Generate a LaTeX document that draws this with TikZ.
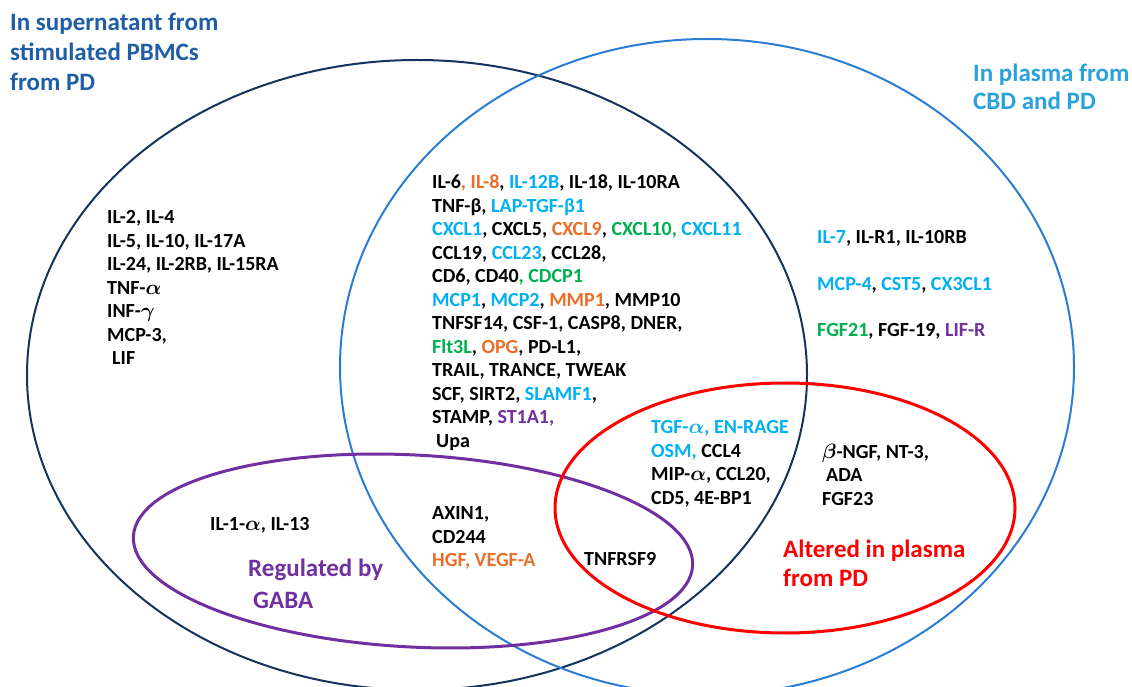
\documentclass[tikz,border=0pt]{standalone}
\usepackage{fontspec}
\setmainfont{Carlito}
\usepackage{amsmath}
\usepackage{tikz}
\usetikzlibrary{positioning}
\definecolor{navyring}{RGB}{20,52,94}
\definecolor{bluering}{RGB}{43,125,212}
\definecolor{navytext}{RGB}{31,93,165}
\definecolor{bluetext}{RGB}{41,161,221}
\definecolor{cyantext}{RGB}{0,176,240}
\definecolor{orangetext}{RGB}{235,110,40}
\definecolor{greentext}{RGB}{0,176,80}
\definecolor{purpletext}{RGB}{112,48,160}
\newcommand{\tcyan}[1]{\textcolor{cyantext}{#1}}
\newcommand{\torange}[1]{\textcolor{orangetext}{#1}}
\newcommand{\tgreen}[1]{\textcolor{greentext}{#1}}
\newcommand{\tpurple}[1]{\textcolor{purpletext}{#1}}

\begin{document}
\begin{tikzpicture}[x=1pt,y=1pt,
  blk/.style={anchor=north west,inner sep=0pt,align=left,font=\bfseries\fontsize{20}{23.5}\selectfont},
  ttl/.style={anchor=north west,inner sep=0pt,align=left,font=\bfseries\fontsize{25}{30}\selectfont}]
\useasboundingbox (0,0) rectangle (1132,686);
\draw[navyring,line width=2pt] (417,311) ellipse (390pt and 315pt);
\draw[bluering,line width=2pt] (707,319) ellipse (367pt and 328pt);
\draw[purpletext,line width=3pt,rotate around={-3:(413,135)}] (413,135) ellipse (280pt and 96pt);
\draw[red,line width=3pt] (785,178) ellipse (230pt and 125pt);

\node[ttl,text=navytext] (pbmc) at (10,673.4) {In supernatant from\\stimulated PBMCs\\from PD};
\node[ttl,text=bluetext,font=\bfseries\fontsize{25}{28}\selectfont] (plasma) at (973,622.4) {In plasma from\\CBD and PD};
\node[ttl,text=purpletext,font=\bfseries\fontsize{25}{32}\selectfont] (gaba) at (248,127.4) {Regulated by\\\hspace{5pt}GABA};
\node[ttl,text=red,font=\bfseries\fontsize{25}{29}\selectfont] (altered) at (783,146.4) {Altered in plasma\\from PD};

\node[blk] (onlypbmc) at (107,475.5) {IL-2, IL-4\\IL-5, IL-10, IL-17A\\IL-24, IL-2RB, IL-15RA\\TNF-$\boldsymbol{\alpha}$\\INF-$\boldsymbol{\gamma}$\\MCP-3,\\\hspace{5pt}LIF};
\node[blk] (both) at (432,511.5) {IL-6\torange{, IL-8}, \tcyan{IL-12B}, IL-18, IL-10RA\\
TNF-β, \tcyan{LAP-TGF-β1}\\
\tcyan{CXCL1}, CXCL5, \torange{CXCL9}, \tgreen{CXCL10,} \tcyan{CXCL11}\\
CCL19, \tcyan{CCL23}, CCL28,\\
CD6, CD40\tgreen{, CDCP1}\\
\tcyan{MCP1}, \tcyan{MCP2}, \torange{MMP1}, MMP10\\
TNFSF14, CSF-1, CASP8, DNER,\\
\tgreen{Flt3L}, \torange{OPG}, PD-L1,\\
TRAIL, TRANCE, TWEAK\\
SCF, SIRT2, \tcyan{SLAMF1},\\
STAMP, \tpurple{ST1A1,}\\
\hspace{4pt}Upa};
\node[blk,font=\bfseries\fontsize{20}{46.5}\selectfont] (onlyplasma) at (817,455.5) {\tcyan{IL-7}, IL-R1, IL-10RB\\
\tcyan{MCP-4}, \tcyan{CST5}, \tcyan{CX3CL1}\\
\tgreen{FGF21}, FGF-19, \tpurple{LIF-R}};
\node[blk] (allthree) at (651,265.5) {\tcyan{TGF-$\boldsymbol{\alpha}$, EN-RAGE}\\\tcyan{OSM,} CCL4\\MIP-$\boldsymbol{\alpha}$, CCL20,\\CD5, 4E-BP1};
\node[blk] (pdplasma) at (822,242.5) {$\boldsymbol{\beta}$-NGF, NT-3,\\\hspace{4pt}ADA\\FGF23};
\node[blk] (gabapbmc) at (210,168.5) {IL-1-$\boldsymbol{\alpha}$, IL-13};
\node[blk] (gababoth) at (432,179.5) {AXIN1,\\CD244\\\torange{HGF, VEGF-A}};
\node[blk] (gabapd) at (584,133.5) {TNFRSF9};
\end{tikzpicture}
\end{document}
